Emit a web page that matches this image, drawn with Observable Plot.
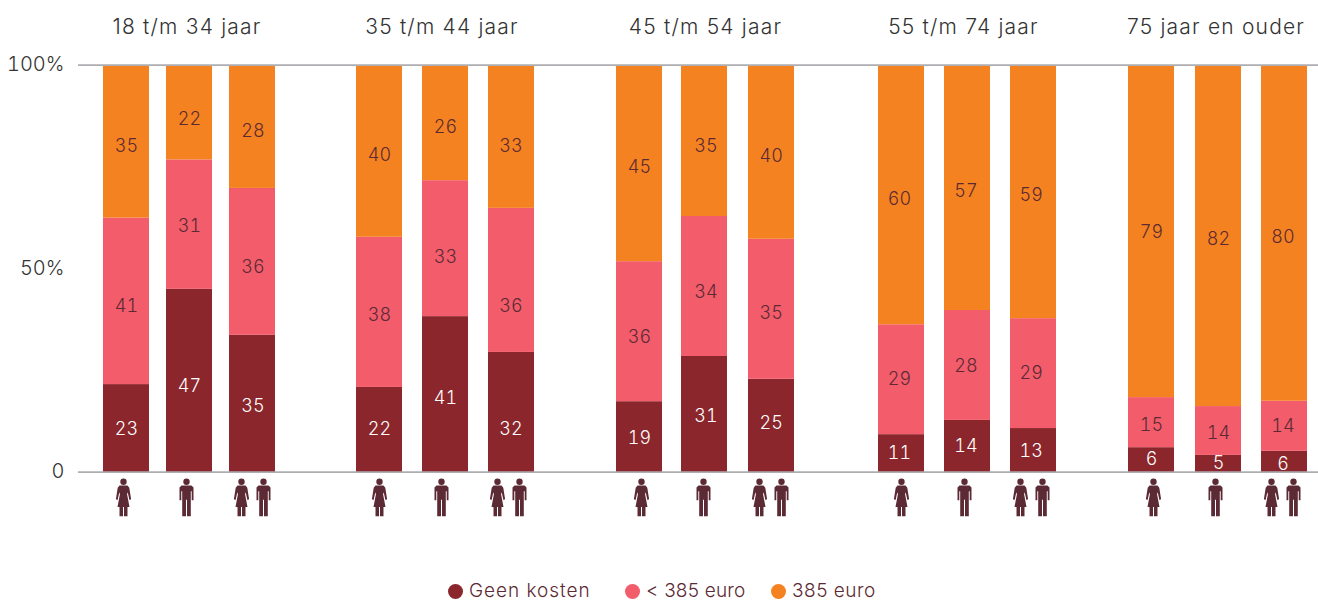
<!DOCTYPE html>
<html lang="nl">
<head>
<meta charset="utf-8">
<script src="https://cdn.jsdelivr.net/npm/d3@7"></script>
<script src="https://cdn.jsdelivr.net/npm/@observablehq/plot@0.6"></script>
<style>
  html, body { margin: 0; padding: 0; background: #fff; }
  body { width: 1318px; height: 601px; overflow: hidden; font-family: Inter, sans-serif; }
  #legend { position: relative; height: 26px; color: #5b2a34; font-size: 19px; font-weight: 300; line-height: 26px; }
  #legend span.item { position: absolute; top: 3px; white-space: nowrap; }
  #legend i { display: inline-block; width: 15px; height: 15px; border-radius: 50%; margin-right: 6px; vertical-align: -2px; }
  .group-title text { letter-spacing: 1.2px; }
</style>
</head>
<body>
<div id="chart"></div>
<div id="legend"></div>
<script>
// ---- Data ----
const ageGroups = ["18 t/m 34 jaar", "35 t/m 44 jaar", "45 t/m 54 jaar", "55 t/m 74 jaar", "75 jaar en ouder"];
const people = ["vrouw", "man", "allen"];
const seriesNames = ["Geen kosten", "< 385 euro", "385 euro"];

// Printed labels, per bar (5 groups x vrouw/man/allen)
const labelsGeen   = [23, 47, 35,  22, 41, 32,  19, 31, 25,  11, 14, 13,  6, 5, 6];
const labelsOnder  = [41, 31, 36,  38, 33, 36,  36, 34, 35,  29, 28, 29,  15, 14, 14];
const labelsVol    = [35, 22, 28,  40, 26, 33,  45, 35, 40,  60, 57, 59,  79, 82, 80];

// Drawn segment heights, in % (they differ from the printed labels)
const heightsGeen  = [21.6, 45.0, 33.7,  20.9, 38.3, 29.5,  17.4, 28.5, 22.9,  9.3, 12.8, 10.8,  6.1, 4.2, 5.2];
const heightsOnder = [40.9, 31.8, 36.1,  36.9, 33.4, 35.4,  34.4, 34.4, 34.4,  27.0, 27.0, 27.0,  12.3, 12.0, 12.3];
const heightsVol   = [37.5, 23.2, 30.2,  42.2, 28.3, 35.1,  48.2, 37.1, 42.7,  63.7, 60.2, 62.2,  81.6, 83.8, 82.5];

// Height on the % axis where each printed label sits
const labelYGeen   = [10.6, 21.3, 16.4,  10.6, 18.3, 10.6,  8.4, 13.8, 12.1,  4.7, 6.4, 5.2,  3.2, 2.2, 2.0];
const labelYOnder  = [40.9, 60.4, 50.5,  38.6, 52.9, 40.9,  33.2, 44.3, 39.1,  23.0, 26.1, 24.3,  11.6, 9.7, 11.4];
const labelYVol    = [80.2, 86.7, 83.9,  78.0, 84.8, 80.2,  75.0, 80.2, 77.7,  67.2, 69.0, 68.2,  59.1, 57.3, 57.7];

const yTicks = [0, 50, 100];

// ---- Layout (x-scale units) ----
const barCentres   = [126, 189, 252,  379, 445, 511,  639, 704, 771,  901, 967, 1033,  1151, 1218, 1284];
const labelCentres = [126, 189, 252.5,  379, 445, 510.5,  639, 705.5, 770.7,  899, 965.5, 1030.7,  1151, 1218, 1282.5];
const iconCentres  = [123, 186, 252,  379, 441, 508,  641, 703, 770,  901, 964, 1031,  1153, 1215, 1282];
const titleCentres = [186.5, 441.5, 705, 963, 1215.5];
const barHalf = 23, pairOffset = 11, iconY = -6.1;

const colors = ["#8b272c", "#f25c6b", "#f58220"];
const ink = "#5b2a34";

// ---- Tables ----
const allHeights = [heightsGeen, heightsOnder, heightsVol];
const allLabels = [labelsGeen, labelsOnder, labelsVol];
const allLabelY = [labelYGeen, labelYOnder, labelYVol];
const rows = seriesNames.flatMap((series, s) => barCentres.map((pos, i) => ({
  series, pos, labelPos: labelCentres[i],
  height: allHeights[s][i], label: allLabels[s][i], labelY: allLabelY[s][i]
})));
const icons = iconCentres.flatMap((pos, i) => {
  const who = people[i % 3];
  return who === "allen"
    ? [{pos: pos - pairOffset, who: "vrouw"}, {pos: pos + pairOffset, who: "man"}]
    : [{pos, who}];
});
const titles = ageGroups.map((title, i) => ({title, pos: titleCentres[i]}));

// ---- Pictogram symbols (drawn at r = 19 → 38px tall) ----
function polygon(ctx, k, pts) {
  pts.forEach(([x, y], i) => i ? ctx.lineTo(x * k, y * k) : ctx.moveTo(x * k, y * k));
  ctx.closePath();
}
const head = (ctx, k) => { ctx.moveTo(3.2 * k, -15.6 * k); ctx.arc(0, -15.6 * k, 3.2 * k, 0, 2 * Math.PI); ctx.closePath(); };
const manSymbol = { draw(ctx, size) {
  const k = Math.sqrt(size / Math.PI) / 19;
  head(ctx, k);
  polygon(ctx, k, [[-5,-11.8],[5,-11.8],[7,-9.8],[7,3],[5.2,3],[5.2,-6],[4.3,-6],[4.3,19],[0.5,19],[0.5,2.5],[-0.5,2.5],[-0.5,19],[-4.3,19],[-4.3,-6],[-5.2,-6],[-5.2,3],[-7,3],[-7,-9.8]]);
}};
const womanSymbol = { draw(ctx, size) {
  const k = Math.sqrt(size / Math.PI) / 19;
  head(ctx, k);
  polygon(ctx, k, [[-4,-11.8],[4,-11.8],[5.8,-9.5],[7.6,2],[5.9,2.6],[4.2,-5],[3.6,-3],[6,9.7],[4,9.7],[4,19],[0.5,19],[0.5,9.7],[-0.5,9.7],[-0.5,19],[-4,19],[-4,9.7],[-6,9.7],[-3.6,-3],[-4.2,-5],[-5.9,2.6],[-7.6,2],[-5.8,-9.5]]);
}};

// ---- Chart ----
const chart = Plot.plot({
  width: 1318,
  height: 575,
  marginLeft: 78, marginRight: 0, marginTop: 65, marginBottom: 103,
  style: { fontFamily: "Inter, sans-serif", background: "#fff", overflow: "visible" },
  x: { type: "linear", domain: [78, 1318], axis: null },
  y: { domain: [0, 100], axis: null },
  color: { domain: seriesNames, range: colors },
  marks: [
    Plot.rectY(rows, {
      x: "pos", x1: d => d.pos - barHalf, x2: d => d.pos + barHalf,
      y: "height", fill: "series", order: seriesNames
    }),
    Plot.ruleY([0, 100], { stroke: "#aeaeb2", strokeWidth: 1.8, dy: -0.3 }),
    Plot.axisY({
      ticks: yTicks, tickFormat: d => d === 0 ? "0" : d + "%", tickSize: 0, tickPadding: 14,
      label: null, fontSize: 20, fontWeight: 300, fill: "#333", dy: -0.5
    }),
    Plot.text(rows.filter(d => d.series === seriesNames[0]), {
      x: "labelPos", y: "labelY", text: "label", fill: "#fff", fontSize: 18, fontWeight: 300
    }),
    Plot.text(rows.filter(d => d.series !== seriesNames[0]), {
      x: "labelPos", y: "labelY", text: "label", fill: ink, fontSize: 18, fontWeight: 300
    }),
    Plot.text(titles, {
      x: "pos", text: "title", frameAnchor: "top", dy: -38, lineAnchor: "middle",
      fill: "#333", fontSize: 21, fontWeight: 300, className: "group-title"
    }),
    Plot.dot(icons.filter(d => d.who === "vrouw"), { x: "pos", y: () => iconY, r: 19, symbol: womanSymbol, fill: ink, stroke: "none" }),
    Plot.dot(icons.filter(d => d.who === "man"), { x: "pos", y: () => iconY, r: 19, symbol: manSymbol, fill: ink, stroke: "none" })
  ]
});
document.getElementById("chart").appendChild(chart);

// ---- Legend ----
const legendLeft = [448, 625, 771];
const legendTracking = [0.95, 0.2, 0.5];
const legend = document.getElementById("legend");
seriesNames.forEach((name, i) => {
  const item = document.createElement("span");
  item.className = "item";
  item.style.left = legendLeft[i] + "px";
  item.style.letterSpacing = legendTracking[i] + "px";
  const dot = document.createElement("i");
  dot.style.background = colors[i];
  item.append(dot, document.createTextNode(name));
  legend.appendChild(item);
});
</script>
</body>
</html>
